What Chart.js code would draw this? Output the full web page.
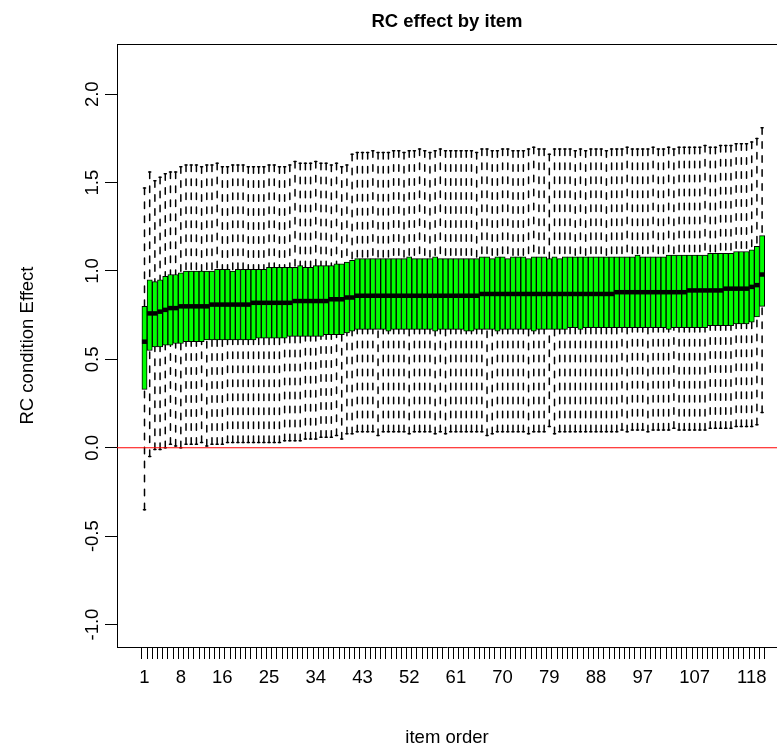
<!DOCTYPE html>
<html>
<head>
<meta charset="utf-8">
<script src="https://cdn.jsdelivr.net/npm/chart.js@4"></script>
<style>
html,body{margin:0;padding:0;background:#fff;overflow:hidden}
#wrap{width:777px;height:752px;position:relative}
</style>
</head>
<body>
<div id="wrap"><canvas id="c" width="777" height="752"></canvas></div>
<script>
// ---------- data ----------
const items = Array.from({length: 120}, (_, i) => i + 1);
const xLabels = [1, 8, 16, 25, 34, 43, 52, 61, 70, 79, 88, 97, 107, 118];
const yTicks = [-1.0, -0.5, 0.0, 0.5, 1.0, 1.5, 2.0];

const upperWhisker = [
  1.47,1.56,1.51,1.53,1.55,1.56,1.56,1.59,1.60,1.60,
  1.60,1.59,1.60,1.60,1.61,1.59,1.59,1.60,1.60,1.60,
  1.59,1.59,1.59,1.59,1.60,1.60,1.59,1.59,1.60,1.62,
  1.61,1.61,1.61,1.62,1.61,1.61,1.60,1.61,1.59,1.60,
  1.66,1.67,1.67,1.67,1.68,1.67,1.67,1.67,1.68,1.68,
  1.67,1.68,1.68,1.69,1.68,1.67,1.68,1.69,1.68,1.68,
  1.68,1.68,1.68,1.68,1.67,1.69,1.69,1.68,1.68,1.69,
  1.69,1.68,1.68,1.68,1.69,1.70,1.69,1.69,1.66,1.69,
  1.69,1.69,1.69,1.68,1.69,1.68,1.69,1.69,1.69,1.68,
  1.69,1.69,1.69,1.70,1.69,1.69,1.69,1.69,1.70,1.69,
  1.69,1.70,1.69,1.70,1.70,1.70,1.70,1.70,1.71,1.70,
  1.70,1.71,1.71,1.71,1.72,1.72,1.72,1.73,1.75,1.81
];
const q3 = [
  0.80,0.95,0.94,0.95,0.97,0.98,0.98,0.99,1.00,1.00,
  1.00,1.00,1.00,1.00,1.01,1.01,1.01,1.00,1.01,1.01,
  1.01,1.01,1.01,1.01,1.02,1.02,1.02,1.02,1.02,1.02,
  1.03,1.02,1.02,1.03,1.03,1.03,1.03,1.04,1.04,1.05,
  1.06,1.07,1.07,1.07,1.07,1.07,1.07,1.07,1.07,1.07,
  1.07,1.08,1.07,1.07,1.07,1.07,1.08,1.07,1.07,1.07,
  1.07,1.07,1.07,1.07,1.07,1.08,1.08,1.07,1.08,1.08,
  1.07,1.08,1.08,1.08,1.07,1.08,1.08,1.08,1.07,1.08,
  1.07,1.08,1.08,1.08,1.08,1.08,1.08,1.08,1.08,1.08,
  1.08,1.08,1.08,1.08,1.08,1.09,1.08,1.08,1.08,1.08,
  1.08,1.09,1.09,1.09,1.09,1.09,1.09,1.09,1.09,1.10,
  1.10,1.10,1.10,1.10,1.11,1.11,1.11,1.12,1.14,1.20
];
const medians = [
  0.60,0.76,0.76,0.77,0.78,0.79,0.79,0.80,0.80,0.80,
  0.80,0.80,0.80,0.81,0.81,0.81,0.81,0.81,0.81,0.81,
  0.81,0.82,0.82,0.82,0.82,0.82,0.82,0.82,0.82,0.83,
  0.83,0.83,0.83,0.83,0.83,0.83,0.84,0.84,0.84,0.85,
  0.85,0.86,0.86,0.86,0.86,0.86,0.86,0.86,0.86,0.86,
  0.86,0.86,0.86,0.86,0.86,0.86,0.86,0.86,0.86,0.86,
  0.86,0.86,0.86,0.86,0.86,0.87,0.87,0.87,0.87,0.87,
  0.87,0.87,0.87,0.87,0.87,0.87,0.87,0.87,0.87,0.87,
  0.87,0.87,0.87,0.87,0.87,0.87,0.87,0.87,0.87,0.87,
  0.87,0.88,0.88,0.88,0.88,0.88,0.88,0.88,0.88,0.88,
  0.88,0.88,0.88,0.88,0.88,0.89,0.89,0.89,0.89,0.89,
  0.89,0.89,0.90,0.90,0.90,0.90,0.90,0.91,0.92,0.98
];
const q1 = [
  0.33,0.55,0.57,0.57,0.58,0.58,0.59,0.59,0.60,0.60,
  0.60,0.60,0.61,0.61,0.61,0.61,0.61,0.61,0.61,0.61,
  0.61,0.61,0.62,0.62,0.62,0.62,0.62,0.62,0.63,0.63,
  0.63,0.63,0.63,0.63,0.63,0.64,0.64,0.64,0.64,0.65,
  0.66,0.67,0.67,0.67,0.67,0.67,0.67,0.66,0.67,0.67,
  0.67,0.67,0.67,0.67,0.67,0.67,0.66,0.67,0.67,0.67,
  0.67,0.67,0.66,0.66,0.67,0.67,0.67,0.67,0.66,0.67,
  0.67,0.67,0.67,0.67,0.67,0.66,0.67,0.67,0.67,0.67,
  0.67,0.67,0.68,0.68,0.67,0.68,0.68,0.68,0.68,0.68,
  0.68,0.68,0.68,0.68,0.68,0.68,0.68,0.68,0.68,0.68,
  0.68,0.67,0.68,0.68,0.68,0.68,0.68,0.68,0.68,0.69,
  0.69,0.69,0.69,0.69,0.70,0.70,0.70,0.71,0.74,0.80
];
const lowerWhisker = [
  -0.35,-0.05,-0.01,-0.01,0.00,0.02,0.01,0.00,0.02,0.02,
  0.02,0.03,0.01,0.02,0.02,0.02,0.03,0.03,0.03,0.03,
  0.03,0.03,0.03,0.03,0.03,0.03,0.03,0.04,0.04,0.04,
  0.04,0.05,0.05,0.05,0.06,0.06,0.06,0.07,0.05,0.08,
  0.08,0.09,0.09,0.09,0.09,0.07,0.09,0.09,0.09,0.09,
  0.09,0.08,0.09,0.09,0.09,0.09,0.08,0.09,0.08,0.09,
  0.09,0.09,0.09,0.09,0.09,0.09,0.07,0.08,0.09,0.09,
  0.09,0.09,0.09,0.09,0.08,0.09,0.09,0.09,0.12,0.08,
  0.09,0.09,0.09,0.09,0.09,0.09,0.09,0.09,0.09,0.09,
  0.09,0.09,0.10,0.09,0.10,0.10,0.10,0.09,0.10,0.10,
  0.10,0.10,0.11,0.10,0.10,0.10,0.10,0.10,0.10,0.11,
  0.11,0.11,0.11,0.11,0.12,0.12,0.12,0.12,0.13,0.20
];
const refLineValue = 0;

// ---------- styling ----------
const FONT = "'Liberation Sans', Arial, Helvetica, sans-serif";
const TXT = 18.5;
const BOX_HALF = 0.4;      // box half width in item units (R boxwex 0.8)
const STAPLE_HALF = 0.2;   // staple half width (staplewex 0.5)

const rBoxPlugin = {
  id: 'rBox',
  beforeDatasetsDraw(chart) {
    const {ctx, scales: {x, y}} = chart;
    ctx.save();
    ctx.strokeStyle = '#000';
    ctx.lineWidth = 1.5;
    ctx.lineCap = 'round';
    ctx.setLineDash([6.5, 7.5]);
    items.forEach((it, i) => {
      const px = x.getPixelForValue(it);
      ctx.beginPath();
      ctx.moveTo(px, y.getPixelForValue(lowerWhisker[i]));
      ctx.lineTo(px, y.getPixelForValue(q1[i]));
      ctx.stroke();
      ctx.beginPath();
      ctx.moveTo(px, y.getPixelForValue(upperWhisker[i]));
      ctx.lineTo(px, y.getPixelForValue(q3[i]));
      ctx.stroke();
    });
    ctx.setLineDash([]);
    items.forEach((it, i) => {
      const l = x.getPixelForValue(it - STAPLE_HALF);
      const r = x.getPixelForValue(it + STAPLE_HALF);
      [lowerWhisker[i], upperWhisker[i]].forEach(v => {
        const py = y.getPixelForValue(v);
        ctx.beginPath();
        ctx.moveTo(l, py);
        ctx.lineTo(r, py);
        ctx.stroke();
      });
    });
    ctx.restore();
  },
  afterDatasetsDraw(chart) {
    const {ctx, scales: {x, y}, chartArea} = chart;
    ctx.save();
    // medians
    ctx.strokeStyle = '#000';
    ctx.lineWidth = 4.5;
    ctx.lineCap = 'butt';
    items.forEach((it, i) => {
      const py = y.getPixelForValue(medians[i]);
      ctx.beginPath();
      ctx.moveTo(x.getPixelForValue(it - BOX_HALF - 0.1), py);
      ctx.lineTo(x.getPixelForValue(it + BOX_HALF + 0.1), py);
      ctx.stroke();
    });
    // reference line (abline h=0)
    ctx.strokeStyle = '#ff0000';
    ctx.lineWidth = 1.2;
    const ry = y.getPixelForValue(refLineValue);
    ctx.beginPath();
    ctx.moveTo(chartArea.left, ry);
    ctx.lineTo(chartArea.right, ry);
    ctx.stroke();
    // top border of the plot box
    ctx.strokeStyle = '#000';
    ctx.lineWidth = 1;
    ctx.beginPath();
    ctx.moveTo(chartArea.left, Math.round(chartArea.top) + 0.5);
    ctx.lineTo(chartArea.right, Math.round(chartArea.top) + 0.5);
    ctx.stroke();
    ctx.restore();
  },
  afterDraw(chart) {
    // rotated y tick labels (R style, parallel to the axis)
    const {ctx, scales: {y}} = chart;
    ctx.save();
    ctx.fillStyle = '#000';
    ctx.font = `${TXT}px ${FONT}`;
    ctx.textAlign = 'center';
    ctx.textBaseline = 'middle';
    y.ticks.forEach(t => {
      ctx.save();
      ctx.translate(92.5, y.getPixelForValue(t.value));
      ctx.rotate(-Math.PI / 2);
      ctx.fillText(t.value.toFixed(1), 0, 0);
      ctx.restore();
    });
    ctx.restore();
  }
};

new Chart(document.getElementById('c'), {
  type: 'bar',
  data: {
    datasets: [{
      data: items.map((it, i) => ({x: it, y: [q1[i], q3[i]]})),
      backgroundColor: '#00ff00',
      borderColor: '#000000',
      borderWidth: 1,
      borderSkipped: false,
      barPercentage: 1,
      categoryPercentage: 1
    }]
  },
  options: {
    responsive: false,
    animation: false,
    events: [],
    layout: {padding: {left: 0, right: 0, top: 0, bottom: 0}},
    plugins: {
      legend: {display: false},
      tooltip: {enabled: false},
      title: {
        display: true,
        text: 'RC effect by item',
        fullSize: false,
        color: '#000',
        font: {family: FONT, size: 18.5, weight: 'bold', lineHeight: 1.2},
        padding: {top: 11, bottom: 10.8}
      }
    },
    scales: {
      x: {
        type: 'linear',
        min: -4.3,
        max: 122.87,
        offset: false,
        afterBuildTicks: s => { s.ticks = items.map(v => ({value: v})); },
        afterFit: s => { s.height = 105; },
        grid: {drawOnChartArea: false, drawTicks: true, tickLength: 12, tickColor: '#000', tickWidth: 1},
        border: {display: true, color: '#000', width: 1},
        ticks: {
          autoSkip: false, maxRotation: 0, minRotation: 0, padding: 8,
          color: '#000', font: {family: FONT, size: TXT},
          callback: v => xLabels.includes(v) ? String(v) : ''
        },
        title: {display: true, text: 'item order', color: '#000',
                font: {family: FONT, size: TXT, lineHeight: 1.2}, padding: {top: 0, bottom: 3}}
      },
      y: {
        type: 'linear',
        min: -1.127,
        max: 2.284,
        afterBuildTicks: s => { s.ticks = yTicks.map(v => ({value: v})); },
        afterFit: s => { s.width = 117; },
        grid: {drawOnChartArea: false, drawTicks: true, tickLength: 12, tickColor: '#000', tickWidth: 1},
        border: {display: true, color: '#000', width: 1},
        ticks: {display: false},
        title: {display: true, text: 'RC condition Effect', color: '#000',
                font: {family: FONT, size: TXT, lineHeight: 1.2}, padding: {top: 17, bottom: 0}}
      }
    }
  },
  plugins: [rBoxPlugin]
});
</script>
</body>
</html>
